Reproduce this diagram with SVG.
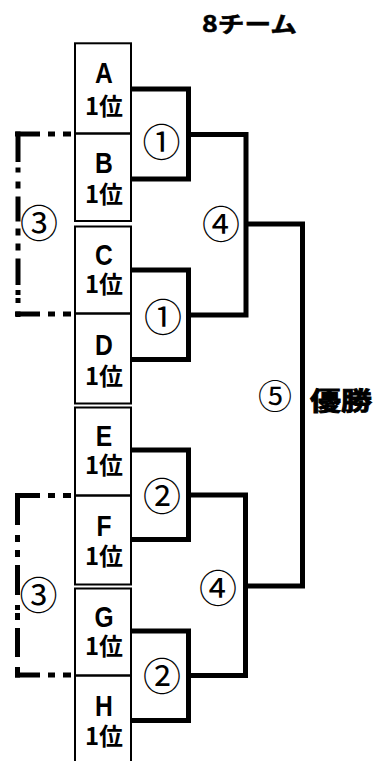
<svg xmlns="http://www.w3.org/2000/svg" width="374" height="761" viewBox="0 0 374 761">
<style>
.box{fill:none;stroke:#000;stroke-width:2}
.br{fill:none;stroke:#000;stroke-width:5;stroke-linejoin:miter}
.dash{fill:none;stroke:#000;stroke-width:5;stroke-linecap:butt}
.ltr{font-family:"Liberation Sans",Arial,sans-serif;font-weight:bold;font-size:30px;text-anchor:middle}
.rank{font-family:"Noto Sans CJK JP","Liberation Sans",sans-serif;font-weight:bold;font-size:24px}
.num{font-family:"Noto Sans CJK JP","DejaVu Sans",sans-serif;font-size:38px;text-anchor:middle}
.title{font-family:"Noto Sans CJK JP",sans-serif;font-weight:bold;font-size:22px;stroke:#000;stroke-width:0.5}
.win{font-family:"Noto Sans CJK JP",sans-serif;font-weight:bold;font-size:25px;stroke:#000;stroke-width:0.9}
</style>
<rect width="374" height="761" fill="#fff"/>
<text id="title" class="title" x="202" y="32" textLength="95" lengthAdjust="spacingAndGlyphs">8チーム</text>

<g id="team-A"><rect class="box" x="75" y="43.3" width="56" height="90.2"/>
<text class="ltr"><tspan x="104" y="83" textLength="17.8" lengthAdjust="spacingAndGlyphs">A</tspan><tspan class="rank" x="104" y="115" textLength="38" lengthAdjust="spacingAndGlyphs">1位</tspan></text></g>
<g id="team-B"><rect class="box" x="75" y="133.5" width="56" height="87.5"/>
<text class="ltr"><tspan x="104" y="173" textLength="17.8" lengthAdjust="spacingAndGlyphs">B</tspan><tspan class="rank" x="104" y="203" textLength="38" lengthAdjust="spacingAndGlyphs">1位</tspan></text></g>
<g id="team-C"><rect class="box" x="75" y="226.5" width="56" height="87"/>
<text class="ltr"><tspan x="104" y="265" textLength="17.8" lengthAdjust="spacingAndGlyphs">C</tspan><tspan class="rank" x="104" y="293" textLength="38" lengthAdjust="spacingAndGlyphs">1位</tspan></text></g>
<g id="team-D"><rect class="box" x="75" y="313.5" width="56" height="90"/>
<text class="ltr"><tspan x="104" y="355" textLength="17.8" lengthAdjust="spacingAndGlyphs">D</tspan><tspan class="rank" x="104" y="385" textLength="38" lengthAdjust="spacingAndGlyphs">1位</tspan></text></g>
<g id="team-E"><rect class="box" x="75" y="407.5" width="56" height="88"/>
<text class="ltr"><tspan x="104" y="446" textLength="16.4" lengthAdjust="spacingAndGlyphs">E</tspan><tspan class="rank" x="104" y="474" textLength="38" lengthAdjust="spacingAndGlyphs">1位</tspan></text></g>
<g id="team-F"><rect class="box" x="75" y="495.5" width="56" height="89"/>
<text class="ltr"><tspan x="104" y="536" textLength="15" lengthAdjust="spacingAndGlyphs">F</tspan><tspan class="rank" x="104" y="565" textLength="38" lengthAdjust="spacingAndGlyphs">1位</tspan></text></g>
<g id="team-G"><rect class="box" x="75" y="588.5" width="56" height="87"/>
<text class="ltr"><tspan x="104" y="627" textLength="19.1" lengthAdjust="spacingAndGlyphs">G</tspan><tspan class="rank" x="104" y="655" textLength="38" lengthAdjust="spacingAndGlyphs">1位</tspan></text></g>
<g id="team-H"><rect class="box" x="75" y="675.5" width="56" height="95"/>
<text class="ltr"><tspan x="104" y="716" textLength="17.8" lengthAdjust="spacingAndGlyphs">H</tspan><tspan class="rank" x="104" y="745" textLength="38" lengthAdjust="spacingAndGlyphs">1位</tspan></text></g>

<g id="connectors">
<path class="br" d="M131,89 H188.5 V179 H131"/>
<path class="br" d="M131,270 H188.5 V359.5 H131"/>
<path class="br" d="M131,450 H188.5 V539.5 H131"/>
<path class="br" d="M131,631 H188.5 V720.5 H131"/>
<path class="br" d="M188.5,134.5 H246 V315 H188.5"/>
<path class="br" d="M188.5,495 H245.5 V675.5 H188.5"/>
<path class="br" d="M246,224 H302.5 V586 H245.5"/>
<line class="dash" x1="15" y1="134" x2="71" y2="134" stroke-dasharray="25 8 7 8 8"/>
<line class="dash" x1="18" y1="131.5" x2="18" y2="317" stroke-dasharray="30.5 5.5 5 9 7 8 25 7 7 8 7 8 26.5 5 5 3 5 8.5 10"/>
<line class="dash" x1="15" y1="314" x2="71" y2="314" stroke-dasharray="25 8 7 8 8"/>
<line class="dash" x1="15" y1="495.5" x2="71" y2="495.5" stroke-dasharray="25 8 7 8 8"/>
<line class="dash" x1="17.5" y1="493" x2="17.5" y2="677.5" stroke-dasharray="32 10 7 8 7 8 30 10 5 3 7 8 29 10 11"/>
<line class="dash" x1="15" y1="675" x2="71" y2="675" stroke-dasharray="25 8 7 8 8"/>
</g>

<g id="round-labels">
<text class="num" x="161.5" y="156">①</text>
<text class="num" x="163" y="331">①</text>
<text class="num" x="162" y="509.5">②</text>
<text class="num" x="162" y="690">②</text>
<text class="num" x="39" y="237">③</text>
<text class="num" x="38.5" y="608.5">③</text>
<text class="num" x="221" y="237.5">④</text>
<text class="num" x="218" y="602">④</text>
<text class="num" x="275" y="409" style="font-size:34px">⑤</text>
</g>
<text id="winner" class="win" x="310" y="410" textLength="62" lengthAdjust="spacingAndGlyphs">優勝</text>
</svg>
